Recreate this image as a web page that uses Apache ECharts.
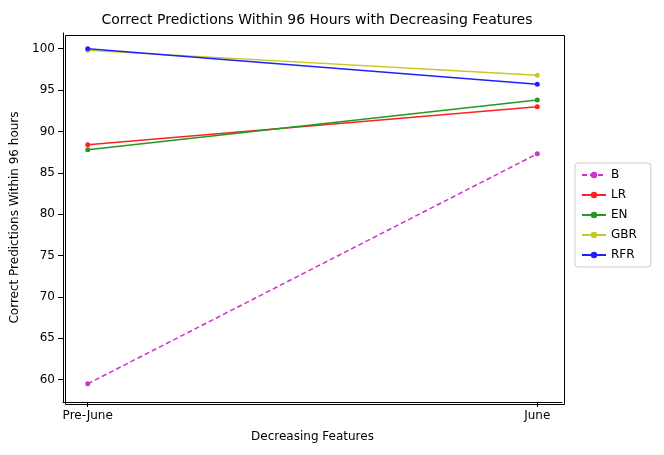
<!DOCTYPE html>
<html><head><meta charset="utf-8">
<script src="https://cdn.jsdelivr.net/npm/echarts@6/dist/echarts.min.js"></script>
<style>body{margin:0}#c{width:664px;height:455px}</style></head>
<body><div id="c"></div>
<script>
var categories = ['Pre-June', 'June'];
var seriesNames = ['B', 'LR', 'EN', 'GBR', 'RFR'];
var seriesValues = [
    [59.5, 87.3],
    [88.4, 93.0],
    [87.8, 93.8],
    [99.8, 96.8],
    [100.0, 95.7]
];
var colors = ['#d030d0', '#ff2020', '#229922', '#c8c820', '#2020ff'];
var yTicks = [60, 65, 70, 75, 80, 85, 90, 95, 100];

var font = 'DejaVu Sans';
var series = seriesNames.map(function (name, i) {
    return {
        name: name,
        type: 'line',
        data: seriesValues[i].map(function (v, j) { return [j, v]; }),
        symbol: 'circle',
        symbolSize: 5,
        itemStyle: { color: colors[i] },
        lineStyle: { color: colors[i], width: 1.5, type: i === 0 ? [5, 3] : 'solid' }
    };
});

var chart = echarts.init(document.getElementById('c'));
chart.setOption({
    animation: false,
    title: {
        text: 'Correct Predictions Within 96 Hours with Decreasing Features',
        left: 312, top: 8, textAlign: 'center',
        textStyle: { fontFamily: font, fontSize: 14, fontWeight: 'normal', color: '#000' }
    },
    grid: { left: 63, right: 102, top: 33, bottom: 53 },
    legend: {
        orient: 'vertical', left: 575, top: 163,
        itemWidth: 24, itemHeight: 8, itemGap: 8,
        borderColor: '#ccc', borderWidth: 1, borderRadius: 3, padding: [6, 14, 6, 6],
        textStyle: { fontFamily: font, fontSize: 12, color: '#000' },
        data: seriesNames
    },
    xAxis: {
        type: 'value', min: -0.055, max: 1.055,
        name: 'Decreasing Features', nameLocation: 'middle', nameGap: 29,
        nameTextStyle: { fontFamily: font, fontSize: 12, color: '#000' },
        axisLine: { show: true, onZero: false, lineStyle: { color: '#000' } },
        axisTick: { show: true, customValues: [0, 1], lineStyle: { color: '#000' } },
        axisLabel: {
            customValues: [0, 1], color: '#000', fontFamily: font, fontSize: 12,
            formatter: function (v) { return categories[Math.round(v)]; }
        },
        splitLine: { show: false }
    },
    yAxis: {
        type: 'value', min: 57.3, max: 101.9,
        name: 'Correct Predictions Within 96 hours', nameLocation: 'middle', nameGap: 40,
        nameTextStyle: { fontFamily: font, fontSize: 12, color: '#000' },
        axisLine: { show: true, onZero: false, lineStyle: { color: '#000' } },
        axisTick: { show: true, customValues: yTicks, lineStyle: { color: '#000' } },
        axisLabel: { customValues: yTicks, color: '#000', fontFamily: font, fontSize: 12 },
        splitLine: { show: false }
    },
    graphic: [{
        type: 'rect', left: 63, top: 33, z: 100,
        shape: { width: 499, height: 369 },
        style: { fill: 'none', stroke: '#000', lineWidth: 1 }
    }],
    series: series
});
</script></body></html>
